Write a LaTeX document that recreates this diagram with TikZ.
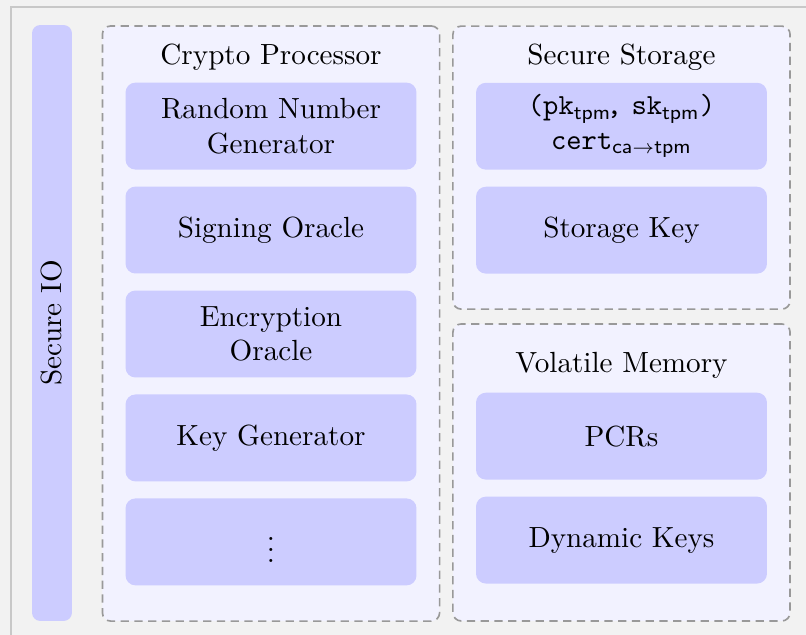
\documentclass[tikz,border=0pt]{standalone}
\usetikzlibrary{positioning}
\definecolor{framegray}{RGB}{200,200,200}
\tikzset{unit/.style={fill=blue!20,rounded corners=3.6pt,minimum width=105.8pt,minimum height=31.6pt,text width=100pt,align=center,inner sep=0pt,font=\fontsize{10.6}{12.5}\selectfont}}
\tikzset{group/.style={draw=black!40,fill=blue!5,dash pattern=on 3pt off 2pt,line width=0.6pt,rounded corners=3pt,minimum width=122.6pt}}
\tikzset{iobar/.style={fill=blue!20,rounded corners=3pt,rotate=90,minimum width=216.7pt,minimum height=14.5pt,inner sep=0pt,font=\fontsize{10.6}{12.5}\selectfont}}
\tikzset{title/.style={inner sep=0pt,font=\fontsize{10.6}{12.5}\selectfont}}

\begin{document}
\begin{tikzpicture}[node distance=5.8pt,x=1pt,y=-1pt]
    % background and frame
    \useasboundingbox (0,0) rectangle (293.1,230.9);
    \fill[black!5] (0,0) rectangle (293.1,230.9);
    \draw[framegray,line width=0.7pt] (4,230.9) |- (293.1,2.5);

    \node[iobar] (io) at (18.9,117.45) {Secure IO};

    \node[group,minimum height=216.4pt] (crypto) at (98.55,117.65) {};
    \node[group,minimum height=102.9pt] (storage) at (226,60.95) {};
    \node[group,minimum height=108pt] (volatile) at (226,171.8) {};

    \node[title] (cryptotitle) at ([yshift=-11.5pt]crypto.north) {Crypto Processor};
    \node[title] (storagetitle) at ([yshift=-11.5pt]storage.north) {Secure Storage};
    \node[title] (volatiletitle) at ([yshift=-15.2pt]volatile.north) {Volatile Memory};

    \node[unit,below=20.7pt of crypto.north] (rng) {Random Number\\Generator};
    \node[unit,below=of rng] (signing) {Signing Oracle};
    \node[unit,below=of signing] (encryption) {Encryption\\Oracle};
    \node[unit,below=of encryption] (keygen) {Key Generator};
    \node[unit,below=of keygen] (more) {$\vdots$};

    \node[unit,below=20.7pt of storage.north] (keypair) {\texttt{(pk\textsubscript{\sffamily tpm}\kern-1.8pt, sk\textsubscript{\sffamily tpm})}\\\texttt{cert}\textsubscript{\sffamily ca$\rightarrow$tpm}};
    \node[unit,below=of keypair] (storagekey) {Storage Key};

    \node[unit,below=25.1pt of volatile.north] (pcrs) {PCRs};
    \node[unit,below=of pcrs] (dynkeys) {Dynamic Keys};
\end{tikzpicture}
\end{document}
